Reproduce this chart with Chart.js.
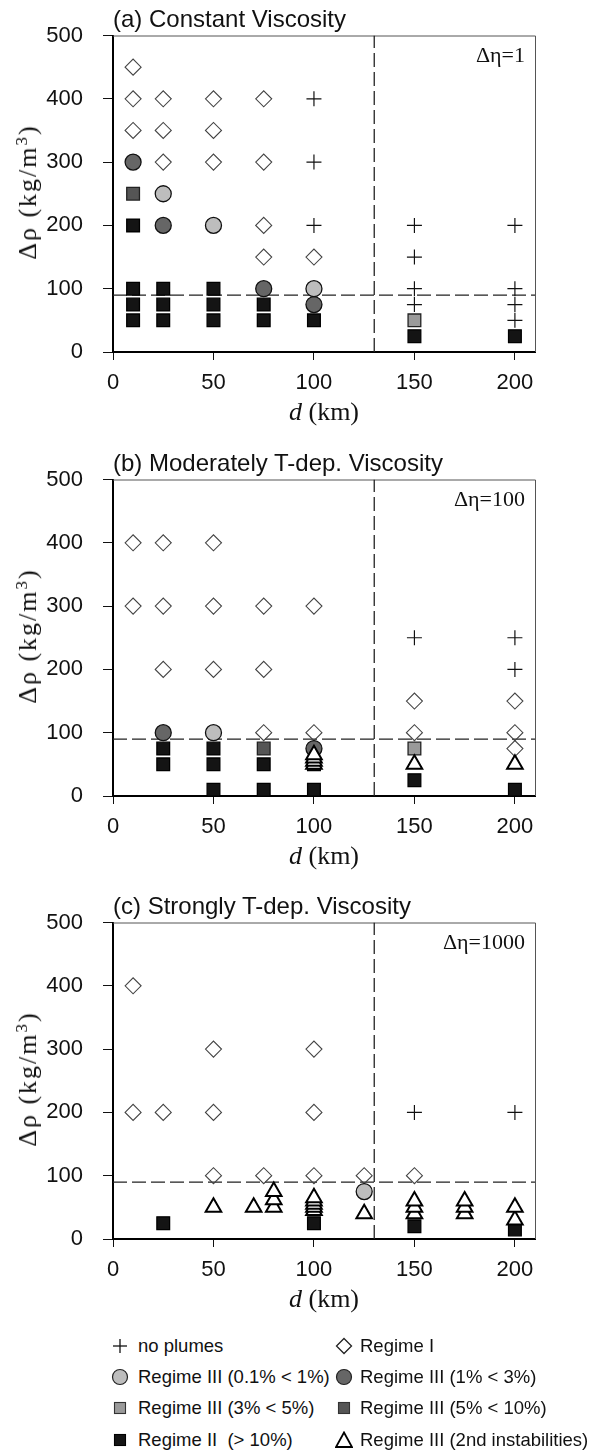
<!DOCTYPE html>
<html>
<head>
<meta charset="utf-8">
<script src="https://cdn.jsdelivr.net/npm/chart.js@4.4.0/dist/chart.umd.min.js"></script>
<style>
  html, body { margin:0; padding:0; background:#fff; }
  body { width:596px; height:1451px; overflow:hidden; position:relative; font-family:"Liberation Sans", Arial, sans-serif; color:#111; }
  .panel { position:absolute; left:0; width:596px; height:444px; }
  .panel canvas { position:absolute; left:0; top:0; }
  .ptitle { position:absolute; left:113px; top:19px; transform:translateY(-50%); font-size:24px; line-height:1; white-space:nowrap; }
  .eta { position:absolute; right:71px; top:55px; transform:translateY(-50%); font-family:"Liberation Serif", "Times New Roman", serif; font-size:22px; line-height:1; white-space:nowrap; }
  .ytitle { position:absolute; left:28px; top:192px; transform:translate(-50%,-50%) rotate(-90deg); font-family:"Liberation Serif", "Times New Roman", serif; font-size:26px; letter-spacing:2px; line-height:1; white-space:nowrap; }
  .xtitle { position:absolute; left:324px; top:412px; transform:translate(-50%,-50%); font-family:"Liberation Serif", "Times New Roman", serif; font-size:26px; line-height:1; white-space:nowrap; }
  .leg { position:absolute; white-space:nowrap; font-size:18.5px; line-height:1; }
  .leg svg { position:absolute; left:0; top:0; }
  .leg span { position:absolute; top:9px; transform:translateY(-50%); }
</style>
</head>
<body>
<div class="panel" id="pa" style="top:0px"><canvas id="ca" width="596" height="444"></canvas></div>
<div class="panel" id="pb" style="top:444px"><canvas id="cb" width="596" height="444"></canvas></div>
<div class="panel" id="pc" style="top:887px"><canvas id="cc" width="596" height="444"></canvas></div>
<div id="legend"></div>
<script>
// ---------- axis / reference values ----------
const xTicks = [0, 50, 100, 150, 200];
const yTicks = [0, 100, 200, 300, 400, 500];
const xRange = [0, 210];
const yRange = [0, 500];
const dCrit = 130;     // vertical dashed line (km)
const rhoCrit = 90;    // horizontal dashed line (kg/m3)
const panelTitles = ['(a) Constant Viscosity', '(b) Moderately T-dep. Viscosity', '(c) Strongly T-dep. Viscosity'];
const etaLabels = ['Δη=1', 'Δη=100', 'Δη=1000'];
const legendLabels = ['no plumes', 'Regime I', 'Regime III (0.1% < 1%)', 'Regime III (1% < 3%)',
  'Regime III (3% < 5%)', 'Regime III (5% < 10%)', 'Regime II\u00a0 (> 10%)', 'Regime III (2nd instabilities)'];

// ---------- panel (a) data: [d, Δρ] ----------
const aNoPlumes = [[100,400],[100,300],[100,200],[150,200],[200,200],[150,150],[150,100],[150,75],[200,100],[200,75],[200,50]];
const aRegimeI = [[10,450],[10,400],[25,400],[50,400],[75,400],[10,350],[25,350],[50,350],[25,300],[50,300],[75,300],[75,200],[75,150],[100,150]];
const aR3light = [[25,250],[50,200],[100,100]];
const aR3dark = [[10,300],[25,200],[75,100],[100,75]];
const aR3sq35 = [[150,50]];
const aR3sq510 = [[10,250]];
const aRegimeII = [[10,200],[10,100],[25,100],[50,100],[10,75],[25,75],[50,75],[75,75],[10,50],[25,50],[50,50],[75,50],[100,50],[150,25],[200,25]];
const aR3second = [];

// ---------- panel (b) data ----------
const bNoPlumes = [[150,250],[200,250],[200,200]];
const bRegimeI = [[10,400],[25,400],[50,400],[10,300],[25,300],[50,300],[75,300],[100,300],[25,200],[50,200],[75,200],[150,150],[200,150],[75,100],[100,100],[150,100],[200,100],[200,75]];
const bR3light = [[50,100]];
const bR3dark = [[25,100],[100,75]];
const bR3sq35 = [[150,75]];
const bR3sq510 = [[75,75]];
const bRegimeII = [[25,75],[50,75],[25,50],[50,50],[75,50],[100,50],[150,25],[50,10],[75,10],[100,10],[200,10]];
const bR3second = [[100,50],[100,55],[100,60],[100,65],[150,50],[200,50]];

// ---------- panel (c) data ----------
const cNoPlumes = [[150,200],[200,200]];
const cRegimeI = [[10,400],[50,300],[100,300],[10,200],[25,200],[50,200],[100,200],[50,100],[75,100],[100,100],[125,100],[150,100]];
const cR3light = [[125,75]];
const cR3dark = [];
const cR3sq35 = [];
const cR3sq510 = [];
const cRegimeII = [[25,25],[100,25],[150,20],[200,15]];
const cR3second = [[50,50],[70,50],[80,50],[80,62],[80,75],[100,45],[100,50],[100,55],[100,60],[100,65],[125,40],[150,40],[150,50],[150,60],[175,40],[175,50],[175,60],[200,30],[200,50]];

// ---------- styles ----------
const styles = {
  second:  { pointStyle:'triangle', pointRadius:9,   borderColor:'#000', backgroundColor:'#fff', borderWidth:2 },
  light:   { pointStyle:'circle',   pointRadius:8,   borderColor:'#111', backgroundColor:'#bdbdbd', borderWidth:1.3 },
  dark:    { pointStyle:'circle',   pointRadius:8,   borderColor:'#111', backgroundColor:'#666', borderWidth:1.3 },
  sq35:    { pointStyle:'rect',     pointRadius:9,   borderColor:'#222', backgroundColor:'#9a9a9a', borderWidth:1.3 },
  sq510:   { pointStyle:'rect',     pointRadius:9,   borderColor:'#222', backgroundColor:'#555', borderWidth:1.3 },
  regII:   { pointStyle:'rect',     pointRadius:9,   borderColor:'#000', backgroundColor:'#141414', borderWidth:1.3 },
  regI:    { pointStyle:'rectRot',  pointRadius:8,   borderColor:'#444', backgroundColor:'rgba(0,0,0,0)', borderWidth:1.1 },
  noPl:    { pointStyle:'cross',    pointRadius:7.5, borderColor:'#111', backgroundColor:'rgba(0,0,0,0)', borderWidth:1.2 }
};

const toPts = arr => arr.map(p => ({ x: p[0], y: p[1] }));

Chart.defaults.font.family = '"Liberation Sans", Arial, sans-serif';
Chart.defaults.color = '#111';

const framePlugin = {
  id: 'frame',
  beforeDatasetsDraw(chart) {
    const a = chart.chartArea, ctx = chart.ctx;
    ctx.save();
    ctx.strokeStyle = '#555';
    ctx.lineWidth = 1;
    ctx.beginPath();
    ctx.moveTo(a.left, a.top + 0.5);
    ctx.lineTo(a.right + 0.5, a.top + 0.5);
    ctx.lineTo(a.right + 0.5, a.bottom);
    ctx.stroke();
    ctx.restore();
  }
};

function makePanel(canvasId, s) {
  const sets = [
    ['second', s.second, 0], ['light', s.light, 1], ['dark', s.dark, 2], ['sq35', s.sq35, 3],
    ['sq510', s.sq510, 4], ['regII', s.regII, 5], ['regI', s.regI, 6], ['noPl', s.noPl, 7]
  ];
  const datasets = sets.map(([k, arr, ord]) => Object.assign({
    label: k, data: toPts(arr), order: ord, pointHoverRadius: 0
  }, styles[k], {
    pointBackgroundColor: styles[k].backgroundColor,
    pointBorderColor: styles[k].borderColor,
    pointBorderWidth: styles[k].borderWidth
  }));
  const dashStyle = { type:'line', borderColor:'#222', borderWidth:1.3, borderDash:[14,5], pointRadius:0, fill:false, order:10, tension:0 };
  datasets.push(Object.assign({ label:'dcrit', data:[{x:dCrit, y:yRange[0]}, {x:dCrit, y:yRange[1]}] }, dashStyle));
  datasets.push(Object.assign({ label:'rhocrit', data:[{x:xRange[0], y:rhoCrit}, {x:xRange[1], y:rhoCrit}] }, dashStyle));

  new Chart(document.getElementById(canvasId), {
    type: 'scatter',
    data: { datasets },
    plugins: [framePlugin],
    options: {
      responsive: false,
      animation: false,
      devicePixelRatio: 1,
      events: [],
      layout: { padding: { top: 35.5, right: 61, left: 0, bottom: 0 } },
      plugins: { legend: { display:false }, tooltip: { enabled:false }, title: { display:false } },
      scales: {
        x: {
          type: 'linear', min: xRange[0], max: xRange[1],
          afterBuildTicks: sc => { sc.ticks = xTicks.map(v => ({ value: v })); },
          afterFit: sc => { sc.height = 92; },
          ticks: { font: { size: 22 }, color:'#111', padding: 10, maxRotation: 0, autoSkip: false },
          grid: { drawOnChartArea: false, drawTicks: true, tickLength: 8, color:'#111', tickWidth: 1 },
          border: { display: true, color:'#000', width: 2 }
        },
        y: {
          type: 'linear', min: yRange[0], max: yRange[1],
          afterBuildTicks: sc => { sc.ticks = yTicks.map(v => ({ value: v })); },
          afterFit: sc => { sc.width = 113; },
          ticks: { font: { size: 22 }, color:'#111', padding: 20, autoSkip: false },
          grid: { drawOnChartArea: false, drawTicks: true, tickLength: 10, color:'#111', tickWidth: 1 },
          border: { display: true, color:'#000', width: 2 }
        }
      }
    }
  });
}

makePanel('ca', { second:aR3second, light:aR3light, dark:aR3dark, sq35:aR3sq35, sq510:aR3sq510, regII:aRegimeII, regI:aRegimeI, noPl:aNoPlumes });
makePanel('cb', { second:bR3second, light:bR3light, dark:bR3dark, sq35:bR3sq35, sq510:bR3sq510, regII:bRegimeII, regI:bRegimeI, noPl:bNoPlumes });
makePanel('cc', { second:cR3second, light:cR3light, dark:cR3dark, sq35:cR3sq35, sq510:cR3sq510, regII:cRegimeII, regI:cRegimeI, noPl:cNoPlumes });

// ---------- text overlays ----------
['pa','pb','pc'].forEach((id, i) => {
  const p = document.getElementById(id);
  const t = document.createElement('div'); t.className = 'ptitle'; t.textContent = panelTitles[i]; p.appendChild(t);
  const e = document.createElement('div'); e.className = 'eta'; e.textContent = etaLabels[i]; p.appendChild(e);
  const y = document.createElement('div'); y.className = 'ytitle'; y.innerHTML = 'Δρ (kg/m<sup style="font-size:0.65em;vertical-align:0.55em;line-height:0">3</sup>)'; p.appendChild(y);
  const x = document.createElement('div'); x.className = 'xtitle'; x.innerHTML = '<i>d</i> (km)'; p.appendChild(x);
});

// ---------- legend ----------
const legSymbols = [
  '<line x1="2" y1="9" x2="16" y2="9" stroke="#111" stroke-width="1.3"/><line x1="9" y1="2" x2="9" y2="16" stroke="#111" stroke-width="1.3"/>',
  '<polygon points="9,1.5 16.5,9 9,16.5 1.5,9" fill="none" stroke="#222" stroke-width="1.3"/>',
  '<circle cx="9" cy="9" r="7.5" fill="#bdbdbd" stroke="#222" stroke-width="1.2"/>',
  '<circle cx="9" cy="9" r="7.5" fill="#666" stroke="#222" stroke-width="1.2"/>',
  '<rect x="3.5" y="3.5" width="11" height="11" fill="#9a9a9a" stroke="#333" stroke-width="1.1"/>',
  '<rect x="3.5" y="3.5" width="11" height="11" fill="#555" stroke="#333" stroke-width="1.1"/>',
  '<rect x="3.5" y="3.5" width="11" height="11" fill="#141414" stroke="#000" stroke-width="1.1"/>',
  '<polygon points="9,1.5 17,16 1,16" fill="#fff" stroke="#000" stroke-width="1.8"/>'
];
const legRows = [1346, 1377, 1408, 1440];
const legCols = [[120, 138], [344, 360]];
const leg = document.getElementById('legend');
legendLabels.forEach((lab, i) => {
  const r = Math.floor(i / 2), c = i % 2;
  const d = document.createElement('div');
  d.className = 'leg';
  d.style.left = (legCols[c][0] - 9) + 'px';
  d.style.top = (legRows[r] - 9) + 'px';
  d.innerHTML = '<svg width="18" height="18" viewBox="0 0 18 18">' + legSymbols[i] + '</svg>';
  const sp = document.createElement('span');
  sp.style.left = (legCols[c][1] - legCols[c][0] + 9) + 'px';
  sp.textContent = lab;
  d.appendChild(sp);
  leg.appendChild(d);
});
</script>
</body>
</html>
